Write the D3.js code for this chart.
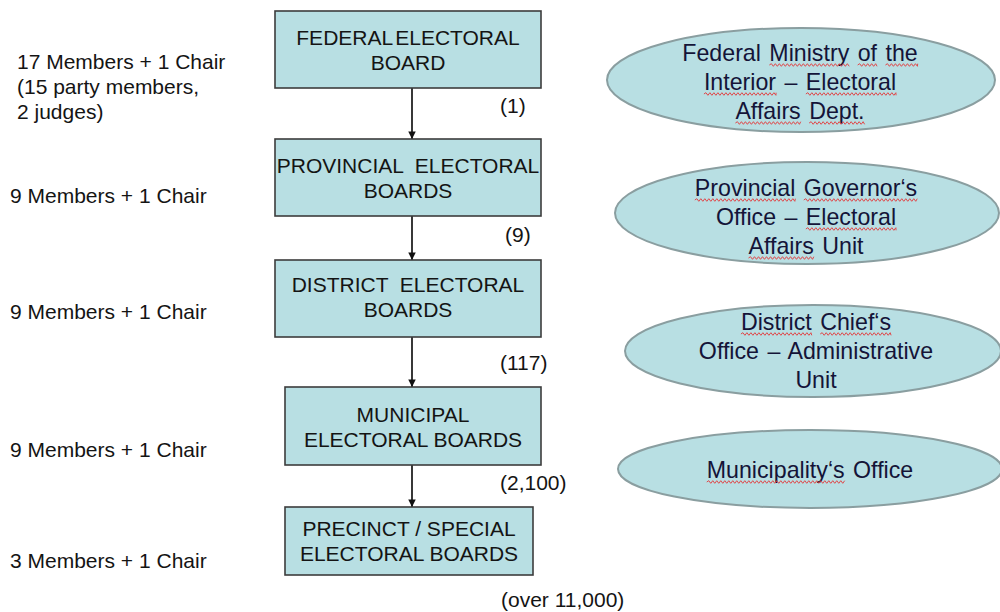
<!DOCTYPE html>
<html>
<head>
<meta charset="utf-8">
<script src="https://cdn.jsdelivr.net/npm/d3@7"></script>
<style>
  html, body { margin: 0; padding: 0; background: #fff; }
  svg { display: block; }
  text { font-family: "Liberation Sans", Arial, sans-serif; white-space: pre; }
</style>
</head>
<body>
<svg id="chart" width="1000" height="612"></svg>
<script>
// ---- data ----
const levels = [0, 1, 2, 3, 4];
const boardNames = [
  ["FEDERAL ELECTORAL", "BOARD"],
  ["PROVINCIAL  ELECTORAL", "BOARDS"],
  ["DISTRICT  ELECTORAL", "BOARDS"],
  ["MUNICIPAL", "ELECTORAL BOARDS"],
  ["PRECINCT / SPECIAL", "ELECTORAL BOARDS"]
];
const memberLabels = [
  ["17 Members + 1 Chair", "(15 party members,", "2 judges)"],
  ["9 Members + 1 Chair"],
  ["9 Members + 1 Chair"],
  ["9 Members + 1 Chair"],
  ["3 Members + 1 Chair"]
];
const boardCounts = ["(1)", "(9)", "(117)", "(2,100)", "(over 11,000)"];
const officeNames = [
  ["Federal Ministry of the", "Interior – Electoral", "Affairs Dept."],
  ["Provincial Governor‘s", "Office – Electoral", "Affairs Unit"],
  ["District Chief‘s", "Office – Administrative", "Unit"],
  ["Municipality‘s Office"]
];
const underlinedWords = [
  [["Ministry", "of", "the"], ["Interior", "Electoral"], ["Affairs", "Dept."]],
  [["Provincial", "Governor‘s"], ["Electoral"], ["Affairs"]],
  [["District", "Chief‘s"], [], []],
  [["Municipality‘s"]]
];

// ---- layout ----
const svg = d3.select("#chart");
const fillCol = "#b8dfe3";
const boxTop = d3.scaleOrdinal().domain(levels).range([11, 139, 260, 387, 507]);
const boxBottom = d3.scaleOrdinal().domain(levels).range([88, 216, 337, 465, 575]);
const boxLeft = d3.scaleOrdinal().domain(levels).range([275, 275, 275, 285, 285]);
const boxRight = d3.scaleOrdinal().domain(levels).range([541, 541, 541, 541, 533]);
const boxLine1 = d3.scaleOrdinal().domain(levels).range([45, 173, 292, 422, 536]);
const memberY = d3.scaleOrdinal().domain(levels).range([69, 203, 319, 457, 568]);
const memberX = d3.scaleOrdinal().domain(levels).range([17, 10, 10, 10, 10]);
const countPos = d3.scaleOrdinal().domain(levels).range([[500, 113], [505, 242], [500, 370], [500, 490], [501, 607]]);
const arrowX = 412;

const ellIdx = [0, 1, 2, 3];
const ellCx = d3.scaleOrdinal().domain(ellIdx).range([801, 807, 813, 810]);
const ellCy = d3.scaleOrdinal().domain(ellIdx).range([80, 213, 351, 469]);
const ellRx = d3.scaleOrdinal().domain(ellIdx).range([194, 192, 188, 192]);
const ellRy = d3.scaleOrdinal().domain(ellIdx).range([52, 51, 46, 39]);
const ellLine1 = d3.scaleOrdinal().domain(ellIdx).range([61, 196, 330, 478]);
const ellTextX = d3.scaleOrdinal().domain(ellIdx).range([800, 806, 816, 810]);

// arrow marker
svg.append("defs").append("marker")
  .attr("id", "arr").attr("viewBox", "0 0 10 10").attr("refX", 10).attr("refY", 5)
  .attr("markerWidth", 4.2).attr("markerHeight", 4.2).attr("markerUnits", "strokeWidth")
  .attr("orient", "auto")
  .append("path").attr("d", "M0,0L10,5L0,10Z").attr("fill", "#111");

// arrows
svg.selectAll("line.arrow").data(levels.slice(0, 4)).join("line")
  .attr("class", "arrow")
  .attr("x1", arrowX).attr("x2", arrowX)
  .attr("y1", d => boxBottom(d)).attr("y2", d => boxTop(d + 1))
  .attr("stroke", "#222").attr("stroke-width", 1.8)
  .attr("marker-end", "url(#arr)");

// boxes
svg.selectAll("rect.box").data(levels).join("rect")
  .attr("class", "box")
  .attr("x", d => boxLeft(d)).attr("y", d => boxTop(d))
  .attr("width", d => boxRight(d) - boxLeft(d))
  .attr("height", d => boxBottom(d) - boxTop(d))
  .attr("fill", fillCol).attr("stroke", "#3c3c3c").attr("stroke-width", 1.6);

levels.forEach(i => {
  const cx = (boxLeft(i) + boxRight(i)) / 2;
  boardNames[i].forEach((t, j) => {
    svg.append("text").attr("x", cx).attr("y", boxLine1(i) + j * 25)
      .attr("text-anchor", "middle").attr("font-size", 21).attr("fill", "#141414")
      .attr("word-spacing", i === 0 ? -3 : 0)
      .text(t);
  });
  memberLabels[i].forEach((t, j) => {
    svg.append("text").attr("x", memberX(i)).attr("y", memberY(i) + j * 25)
      .attr("font-size", 21).attr("fill", "#141414").text(t);
  });
  const cp = countPos(i);
  svg.append("text").attr("x", cp[0]).attr("y", cp[1])
    .attr("font-size", 21).attr("fill", "#141414").text(boardCounts[i]);
});

// ellipses
svg.selectAll("ellipse.office").data(ellIdx).join("ellipse")
  .attr("class", "office")
  .attr("cx", d => ellCx(d)).attr("cy", d => ellCy(d))
  .attr("rx", d => ellRx(d)).attr("ry", d => ellRy(d))
  .attr("fill", fillCol).attr("stroke", "#8a9ea0").attr("stroke-width", 2);

function wavy(x0, x1, y) {
  const p = d3.path();
  p.moveTo(x0, y);
  let up = true;
  for (let x = x0; x < x1; x += 2) {
    p.lineTo(Math.min(x + 2, x1), y + (up ? -1.3 : 1.3));
    up = !up;
  }
  return p.toString();
}

ellIdx.forEach(i => {
  officeNames[i].forEach((t, j) => {
    const y = ellLine1(i) + j * 29;
    const txt = svg.append("text").attr("x", ellTextX(i)).attr("y", y)
      .attr("text-anchor", "middle").attr("font-size", 23.2).attr("fill", "#141438")
      .attr("word-spacing", 2)
      .text(t);
    const node = txt.node();
    (underlinedWords[i][j] || []).forEach(w => {
      const s = t.indexOf(w);
      if (s < 0) return;
      const a = node.getExtentOfChar(s);
      const b = node.getExtentOfChar(s + w.length - 1);
      svg.append("path").attr("d", wavy(a.x, b.x + b.width, y + 4))
        .attr("fill", "none").attr("stroke", "#e0484a").attr("stroke-width", 1);
    });
  });
});
</script>
</body>
</html>
